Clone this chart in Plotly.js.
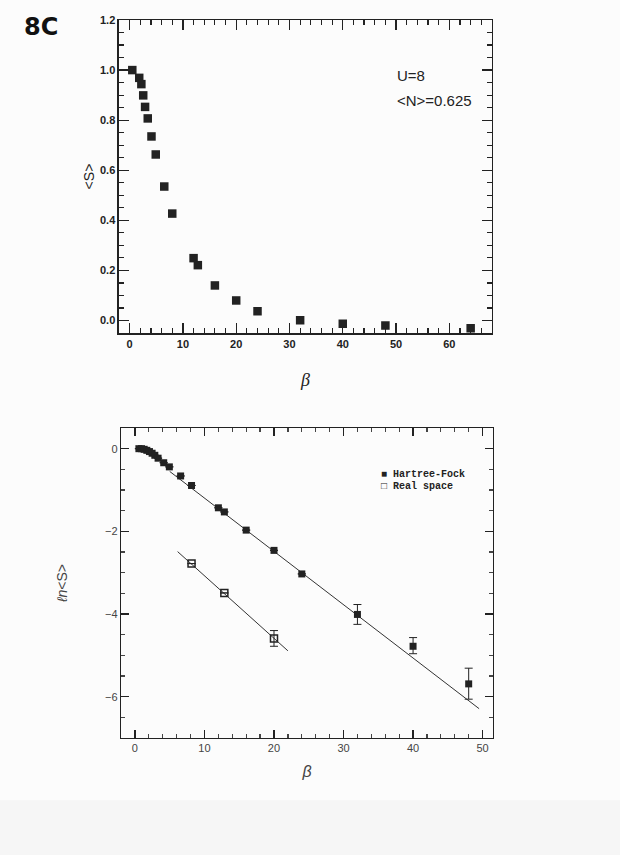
<!DOCTYPE html>
<html>
<head>
<meta charset="utf-8">
<script src="https://cdn.plot.ly/plotly-3.0.1.min.js"></script>
<style>html,body{margin:0;padding:0;background:#fcfcfc;}#chart{width:620px;height:855px;}</style>
</head>
<body>
<div id="chart"></div>
<script>
// ---- Top panel: <S> vs beta ----
const betaTop = [0.5, 1.8, 2.2, 2.55, 2.9, 3.4, 4.1, 4.9, 6.5, 8, 12, 12.8, 16, 20, 24, 32, 40, 48, 64];
const sTop = [1.0, 0.969, 0.944, 0.899, 0.853, 0.807, 0.735, 0.663, 0.535, 0.427, 0.249, 0.221, 0.14, 0.08, 0.037, 0.001, -0.013, -0.02, -0.031];

// ---- Bottom panel: ln<S> vs beta ----
const betaHF = [0.57, 0.95, 1.33, 1.71, 2.09, 2.47, 2.86, 3.33, 4.14, 4.95, 6.57, 8.14, 12, 12.86, 16, 20, 24, 32, 40, 48];
const lnHF = [0, 0, -0.015, -0.04, -0.07, -0.11, -0.16, -0.23, -0.34, -0.44, -0.66, -0.89, -1.43, -1.53, -1.97, -2.46, -3.03, -4.01, -4.78, -5.69];
const errHFplus = [0, 0, 0, 0, 0, 0, 0, 0, 0, 0, 0, 0, 0, 0, 0, 0, 0, 0.24, 0.21, 0.38];
const errHFminus = [0, 0, 0, 0, 0, 0, 0, 0, 0, 0, 0, 0, 0, 0, 0, 0, 0, 0.24, 0.18, 0.37];

const betaRS = [8.14, 12.86, 20];
const lnRS = [-2.78, -3.49, -4.59];
const errRS = [0, 0, 0.19];

// fitted straight lines (endpoints)
const betaFitHF = [5.0, 49.5];
const lnFitHF = [-0.55, -6.29];
const betaFitRS = [6.14, 22];
const lnFitRS = [-2.49, -4.89];

const ink = '#222';
const traces = [
  {x: betaTop, y: sTop, type: 'scatter', mode: 'markers', xaxis: 'x', yaxis: 'y',
   marker: {symbol: 'square', size: 8.5, color: ink}, showlegend: false},
  {x: betaFitHF, y: lnFitHF, type: 'scatter', mode: 'lines', xaxis: 'x2', yaxis: 'y2',
   line: {color: '#333', width: 1}, showlegend: false},
  {x: betaFitRS, y: lnFitRS, type: 'scatter', mode: 'lines', xaxis: 'x2', yaxis: 'y2',
   line: {color: '#333', width: 1}, showlegend: false},
  {x: betaHF, y: lnHF, type: 'scatter', mode: 'markers', xaxis: 'x2', yaxis: 'y2', name: 'Hartree-Fock',
   marker: {symbol: 'square', size: 7, color: ink},
   error_y: {type: 'data', symmetric: false, array: errHFplus, arrayminus: errHFminus, color: ink, thickness: 1, width: 4},
   showlegend: false},
  {x: betaRS, y: lnRS, type: 'scatter', mode: 'markers', xaxis: 'x2', yaxis: 'y2', name: 'Real space',
   marker: {symbol: 'square-open', size: 7, color: ink, line: {width: 1.5}},
   error_y: {type: 'data', array: errRS, color: ink, thickness: 1, width: 4},
   showlegend: false}
];

const axBase = {
  showgrid: false, zeroline: false, showline: true, linecolor: ink, linewidth: 1.5,
  mirror: 'ticks', ticks: 'inside', tickcolor: ink, tickwidth: 1.2
};

const layout = {
  width: 620, height: 855,
  margin: {l: 0, r: 0, t: 0, b: 0},
  paper_bgcolor: '#fcfcfc', plot_bgcolor: 'rgba(0,0,0,0)',
  showlegend: false,
  xaxis: Object.assign({}, axBase, {
    domain: [0.1919, 0.7935], anchor: 'y', range: [-2, 68], dtick: 10, tick0: 0, ticklen: 10,
    minor: {dtick: 2, ticklen: 5, ticks: 'inside', tickcolor: ink},
    tickfont: {family: 'Liberation Sans, Arial', size: 11, color: ink, weight: 'bold'},
    title: {text: '<i>β</i>', font: {family: 'Liberation Serif, serif', size: 18, color: ink}, standoff: 24}
  }),
  yaxis: Object.assign({}, axBase, {
    domain: [0.6105, 0.9766], anchor: 'x', range: [-0.05, 1.2], dtick: 0.2, tick0: 0, ticklen: 10,
    tickformat: '.1f',
    minor: {dtick: 0.05, ticklen: 5, ticks: 'inside', tickcolor: ink},
    tickfont: {family: 'Liberation Sans, Arial', size: 11, color: ink, weight: 'bold'},
    title: {text: '&lt;S&gt;', font: {family: 'Liberation Sans, Arial', size: 14, color: ink}, standoff: 2}
  }),
  xaxis2: Object.assign({}, axBase, {
    domain: [0.1952, 0.7952], anchor: 'y2', range: [-2, 51.5], dtick: 10, tick0: 0, ticklen: 8,
    linewidth: 1.2,
    minor: {dtick: 2, ticklen: 4, ticks: 'inside', tickcolor: '#444'},
    tickfont: {family: 'Liberation Sans, Arial', size: 11, color: '#444'},
    title: {text: '<i>β</i>', font: {family: 'Liberation Sans, Arial', size: 16, color: '#444'}, standoff: 12}
  }),
  yaxis2: Object.assign({}, axBase, {
    domain: [0.1368, 0.4994], anchor: 'x2', range: [-7, 0.5], dtick: 2, tick0: 0, ticklen: 8,
    linewidth: 1.2,
    minor: {dtick: 0.5, ticklen: 4, ticks: 'inside', tickcolor: '#444'},
    tickfont: {family: 'Liberation Sans, Arial', size: 11, color: '#444'},
    title: {text: '<i>ℓn</i>&lt;S&gt;', font: {family: 'Liberation Sans, Arial', size: 14, color: '#444'}, standoff: 34}
  }),
  annotations: [
    {text: '8C', xref: 'paper', yref: 'paper', x: 0.035, y: 0.968, xanchor: 'left', yanchor: 'middle',
     showarrow: false, font: {family: 'DejaVu Sans', size: 24, color: '#111', weight: 'bold'}},
    {text: 'U=8', xref: 'paper', yref: 'paper', x: 0.637, y: 0.912, xanchor: 'left', yanchor: 'middle',
     showarrow: false, font: {family: 'Liberation Sans, Arial', size: 15, color: ink}},
    {text: '&lt;N&gt;=0.625', xref: 'paper', yref: 'paper', x: 0.637, y: 0.882, xanchor: 'left', yanchor: 'middle',
     showarrow: false, font: {family: 'Liberation Sans, Arial', size: 15, color: ink}},
    {text: '■ Hartree-Fock', xref: 'paper', yref: 'paper', x: 0.612, y: 0.4455, xanchor: 'left', yanchor: 'middle',
     showarrow: false, font: {family: 'Liberation Mono, monospace', size: 10, color: ink, weight: 'bold'}},
    {text: '□ Real space', xref: 'paper', yref: 'paper', x: 0.612, y: 0.4305, xanchor: 'left', yanchor: 'middle',
     showarrow: false, font: {family: 'Liberation Mono, monospace', size: 10, color: ink, weight: 'bold'}}
  ],
  shapes: [
    {type: 'rect', xref: 'paper', yref: 'paper', x0: 0, x1: 1, y0: 0, y1: 0.064, layer: 'below',
     fillcolor: '#f6f6f6', line: {width: 0}}
  ]
};

Plotly.newPlot('chart', traces, layout, {staticPlot: true, displayModeBar: false});
</script>
</body>
</html>
